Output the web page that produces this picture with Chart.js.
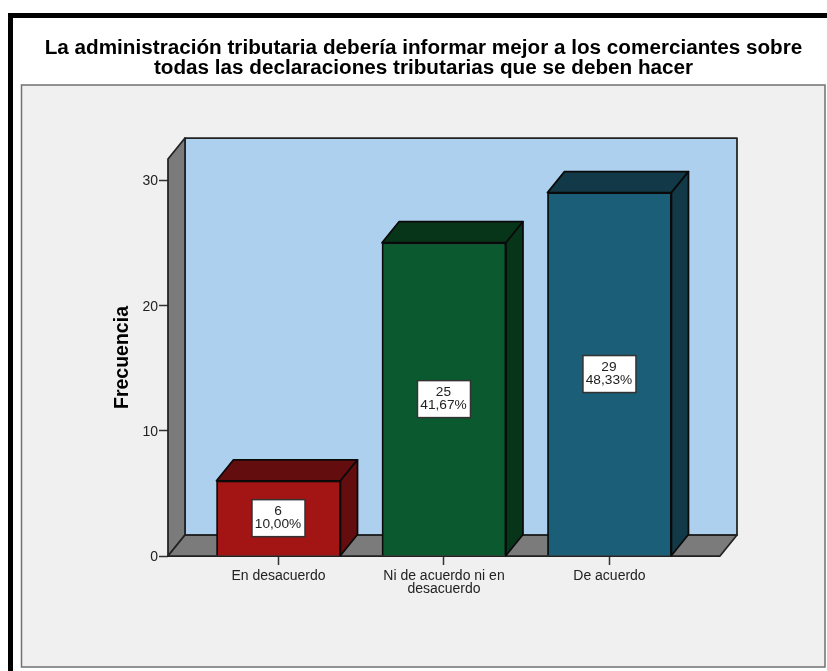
<!DOCTYPE html>
<html>
<head>
<meta charset="utf-8">
<style>html,body{margin:0;padding:0;background:#fff;overflow:hidden}canvas{display:block}</style>
<script src="https://cdn.jsdelivr.net/npm/chart.js@4"></script>
</head>
<body>
<canvas id="c" width="827" height="671"></canvas>
<script>
const titleLines = ["La administración tributaria debería informar mejor a los comerciantes sobre","todas las declaraciones tributarias que se deben hacer"];
const categories = [["En desacuerdo"],["Ni de acuerdo ni en","desacuerdo"],["De acuerdo"]];
const frequencies = [6,25,29];
const percents = ["10,00%","41,67%","48,33%"];
const frontColors = ["#a31515","#0b5a2f","#1b5e77"];
const sideColors = ["#640d0f","#073519","#123947"];
const DX = 17, DY = -21, FONT = '"Liberation Sans", Arial, sans-serif';

function poly(ctx, pts, fill, stroke, lw){
  ctx.beginPath();
  pts.forEach((p,i)=> i ? ctx.lineTo(p[0],p[1]) : ctx.moveTo(p[0],p[1]));
  ctx.closePath();
  if(fill){ctx.fillStyle=fill;ctx.fill();}
  if(stroke){ctx.strokeStyle=stroke;ctx.lineWidth=lw||1.5;ctx.lineJoin='round';ctx.stroke();}
}
const scene = {
  id:'scene',
  afterLayout(chart){
    chart.titleBlock.left=0;
    chart.titleBlock.right=847;
  },
  beforeDraw(chart){
    const c=chart.ctx;
    c.save();
    c.fillStyle='#fff';c.fillRect(0,0,827,671);
    c.fillStyle='#000';c.fillRect(8,13,819,5);c.fillRect(8,13,5,658);
    c.fillStyle='#f0f0f0';c.fillRect(21.5,85,803.5,582);
    c.strokeStyle='#707070';c.lineWidth=1.5;c.strokeRect(21.5,85,803.5,582);
    c.restore();
  },
  beforeDatasetsDraw(chart){
    const c=chart.ctx, a=chart.chartArea;
    const l=a.left,r=a.right,t=a.top,b=a.bottom,s='#222';
    c.save();
    poly(c,[[l+DX,t+DY],[r+DX,t+DY],[r+DX,b+DY],[l+DX,b+DY]],'#acd0ee',s,1.75);
    poly(c,[[l,t],[l+DX,t+DY],[l+DX,b+DY],[l,b]],'#7b7b7b',s,1.75);
    poly(c,[[l,b],[l+DX,b+DY],[r+DX,b+DY],[r,b]],'#7b7b7b',s,1.75);
    chart.getDatasetMeta(0).data.forEach((bar,i)=>{
      const x0=bar.x-bar.width/2,x1=bar.x+bar.width/2,y=bar.y,base=bar.base;
      poly(c,[[x0,y],[x0+DX,y+DY],[x1+DX,y+DY],[x1,y]],sideColors[i],'#0a0a0a',1.75);
      poly(c,[[x1,y],[x1+DX,y+DY],[x1+DX,base+DY],[x1,base]],sideColors[i],'#0a0a0a',1.75);
    });
    c.restore();
  },
  afterDatasetsDraw(chart){
    const c=chart.ctx;
    c.save();
    chart.getDatasetMeta(0).data.forEach((bar,i)=>{
      const cy=(bar.y+bar.base)/2, w=53, h=37;
      c.fillStyle='#fff';c.fillRect(bar.x-w/2,cy-h/2,w,h);
      c.strokeStyle='#333';c.lineWidth=1.5;c.strokeRect(bar.x-w/2,cy-h/2,w,h);
      c.fillStyle='#222';c.font='13.7px '+FONT;c.textAlign='center';c.textBaseline='middle';
      c.fillText(String(frequencies[i]),bar.x-0.5,cy-6.5);
      c.fillText(percents[i],bar.x-0.5,cy+6.5);
    });
    c.restore();
  }
};
new Chart(document.getElementById('c'),{
  type:'bar',
  data:{datasets:[{
    data:frequencies.map((v,i)=>({x:i,y:v})),
    backgroundColor:frontColors,
    borderColor:'#0a0a0a',borderWidth:1.75,barThickness:124
  }]},
  options:{
    responsive:false,animation:false,devicePixelRatio:1,
    layout:{padding:{left:127,right:107,top:0,bottom:0}},
    plugins:{
      legend:{display:false},tooltip:{enabled:false},
      title:{display:true,text:titleLines,color:'#000',
        font:{family:FONT,size:20.7,weight:'bold',lineHeight:20.5/20.7},
        padding:{top:38,bottom:80}}
    },
    scales:{
      x:{type:'linear',min:-0.6677,max:2.668,offset:false,
        afterBuildTicks(ax){ax.ticks=categories.map((_,i)=>({value:i}));},
        afterFit(ax){ax.height=115;},
        grid:{offset:false,drawOnChartArea:false,drawTicks:true,tickLength:9,tickColor:'#333',tickWidth:1.5},
        border:{display:false},
        ticks:{autoSkip:false,maxRotation:0,padding:5,color:'#222',font:{family:FONT,size:14,lineHeight:13/14},
          callback:v=>categories[v]}
      },
      y:{min:0,max:31.68,
        afterFit(ax){ax.width=41;},
        grid:{drawOnChartArea:false,tickLength:9,tickColor:'#333',tickWidth:1.5},
        border:{display:false},
        ticks:{stepSize:10,includeBounds:false,padding:1,labelOffset:1.5,color:'#222',font:{family:FONT,size:14}},
        title:{display:true,text:'Frecuencia',color:'#000',font:{family:FONT,size:19.5,weight:'bold'},padding:{top:-15.7,bottom:0}}
      }
    }
  },
  plugins:[scene]
});
</script>
</body>
</html>
